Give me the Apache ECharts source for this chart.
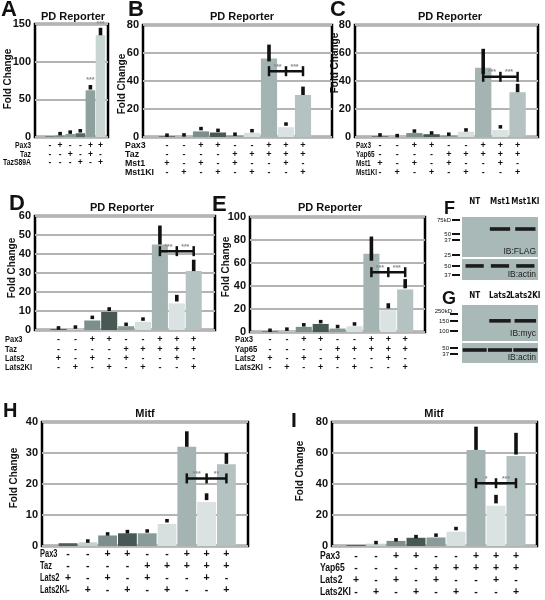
<!DOCTYPE html>
<html><head><meta charset="utf-8">
<script src="https://cdn.jsdelivr.net/npm/echarts@6/dist/echarts.min.js"></script>
<style>html,body{margin:0;padding:0;background:#fff}#c{width:545px;height:600px}</style>
</head><body><div id="c"></div>
<script>
// ---------------- DATA ----------------
// shared condition rows (panels B-I)
const pax3Signs    = ['-','-','+','+','-','-','+','+','+'];
const partnerSigns = ['-','-','-','-','+','+','+','+','+'];
const kinaseSigns  = ['+','-','+','-','+','-','-','+','-'];
const kinaseKISigns= ['-','+','-','+','-','+','-','-','+'];

// Panel A
const aRowNames = ['Pax3','Taz','TazS89A'];
const aPax3     = ['-','+','-','-','+','+'];
const aTaz      = ['-','-','+','-','+','-'];
const aTazS89A  = ['-','-','-','+','-','+'];
const aValues   = [0.8, 2, 4, 5, 62, 135];
const aErrLow   = [null, 3.5, 5.5, 7, 63, 135];
const aErrHigh  = [null, 5.5, 7.5, 9.5, 69, 145];
const aStarText = ['', '', '', '', '***', '***'];
const aStarLevel= [null, null, null, null, 75, 150];
const aTicks    = [0, 50, 100, 150];

// Panel B
const bRowNames = ['Pax3','Taz','Mst1','Mst1KI'];
const bValues   = [0.5, 0.3, 4, 3.2, 1, 3, 56, 7, 30];
const bErrLow   = [0.8, 1, 5, 4, 1.5, 3.8, 54, 8, 30];
const bErrHigh  = [1.8, 2, 7, 5.5, 2.5, 5.2, 66, 10.5, 36];
const bBracket  = 47; const bStars = ['***','***'];
const bTicks    = [0, 20, 40, 60, 80];

// Panel C
const cRowNames = ['Pax3','Yap65','Mst1','Mst1KI'];
const cValues   = [0.5, 0.3, 2.8, 2, 1, 3.8, 49.5, 5, 32];
const cErrLow   = [1, 0.5, 3.5, 2.3, 1.5, 4.3, 45, 6.5, 32];
const cErrHigh  = [2, 1.5, 5, 3.5, 2.5, 5.8, 63, 8, 38];
const cBracket  = 43; const cStars = ['***','***'];
const cTicks    = [0, 20, 40, 60, 80];

// Panel D
const dRowNames = ['Pax3','Taz','Lats2','Lats2KI'];
const dValues   = [0.5, 0.7, 5, 9.5, 2, 4.3, 45, 14, 31];
const dErrLow   = [0.7, 1.1, 5.8, 10, 2.5, 5, 45, 15, 31];
const dErrHigh  = [1.5, 2, 7.5, 12, 3.5, 6.5, 55, 18.5, 37];
const dBracket  = 41.5; const dStars = ['***','***'];
const dTicks    = [0, 10, 20, 30, 40, 50, 60];

// Panel E
const eRowNames = ['Pax3','Yap65','Lats2','Lats2KI'];
const eValues   = [0.5, 0.5, 4.5, 7, 3, 5, 68, 19, 37];
const eErrLow   = [1, 2, 5.5, 8, 4, 6, 62, 20.5, 38];
const eErrHigh  = [2, 3, 7, 10, 5.5, 8, 83, 25, 46];
const eBracket  = 52; const eStars = ['***','***'];
const eTicks    = [0, 20, 40, 60, 80, 100];

// Panel H
const hRowNames = ['Pax3','Taz','Lats2','Lats2KI'];
const hValues   = [0.9, 1.2, 3.4, 4.1, 4.1, 7.1, 32, 14.2, 26.4];
const hErrLow   = [null, 1.3, 3.6, 4.3, 4.5, 7.7, 32, 14.8, 26.5];
const hErrHigh  = [null, 1.9, 4.2, 5, 5.2, 8.6, 37, 17, 30];
const hBracket  = 21.8; const hStars = ['***','**'];
const hTicks    = [0, 10, 20, 30, 40];

// Panel I
const iRowNames = ['Pax3','Yap65','Lats2','Lats2KI'];
const iValues   = [0.6, 1.5, 3.3, 5.3, 5.5, 9.2, 62, 26, 58];
const iErrLow   = [null, 1.8, 3.6, 5.6, 6.4, 10.5, 62, 27.5, 59];
const iErrHigh  = [null, 2.6, 4.4, 6.5, 7.6, 12, 77, 33, 73];
const iBracket  = 40.5; const iStars = ['*','***'];
const iTicks    = [0, 20, 40, 60, 80];

// Western blots F, G
const fLanes = ['NT','Mst1','Mst1KI'];
const fFlagBand  = [0, 1, 1];
const fActinBand = [1, 1, 1];
const fMarkers = ['75kD','50','37','25','50','37'];
const fProbes  = ['IB:FLAG','IB:actin'];
const gLanes = ['NT','Lats2','Lats2KI'];
const gMycBand   = [0, 1, 1];
const gActinBand = [1, 1, 1];
const gMarkers = ['250kD','150','100','50','37'];
const gProbes  = ['IB:myc','IB:actin'];

// colours
const barColors9 = ['#4f5f5c','#c6d1d0','#7c8f8c','#485955','#8a9c99','#d6e0de','#a3b4b2','#dae3e2','#b4c3c1'];
const barColorsA = ['#4f5f5c','#7c8f8c','#8a9c99','#586965','#8fa19e','#c9d5d3'];
const BLOT = '#a9b9b8';
const FONT = '"Liberation Sans", Arial, Helvetica, sans-serif';
const NARROW = '"Liberation Sans Narrow", "DejaVu Sans Condensed", "Liberation Sans", Arial, sans-serif';

// ---------------- LAYOUT ----------------
const panels = [
 {letter:'A', title:'PD Reporter', values:aValues, lo:aErrLow, hi:aErrHigh, colors:barColorsA, rows:[aPax3,aTaz,aTazS89A], rowNames:aRowNames, ticks:aTicks,
  stars:{text:aStarText, level:aStarLevel},
  frame:{l:35,r:108,t:24,b:137}, first:50, pitch:10.1, fs:8.5, lh:8.5, margin:4.5, names:{x:31,align:'right',w:28}, titlePos:[73,17], yname:[8,79], letterPos:[1,10,22]},
 {letter:'B', title:'PD Reporter', values:bValues, lo:bErrLow, hi:bErrHigh, colors:barColors9, rows:[pax3Signs,partnerSigns,kinaseSigns,kinaseKISigns], rowNames:bRowNames, ticks:bTicks,
  bracket:bBracket, bStars:bStars,
  frame:{l:143,r:332,t:25,b:137}, first:167, pitch:17, fs:9, lh:9, margin:4.5, names:{x:125,align:'left',w:29}, titlePos:[242,17], yname:[122,84], letterPos:[128,10,22]},
 {letter:'C', title:'PD Reporter', values:cValues, lo:cErrLow, hi:cErrHigh, colors:barColors9, rows:[pax3Signs,partnerSigns,kinaseSigns,kinaseKISigns], rowNames:cRowNames, ticks:cTicks,
  bracket:cBracket, bStars:cStars,
  frame:{l:355,r:538,t:25,b:137}, first:380, pitch:17.2, fs:9, lh:9, margin:4.5, names:{x:356,align:'left',w:21}, titlePos:[450,17], yname:[335,63], letterPos:[330,10,22]},
 {letter:'D', title:'PD Reporter', values:dValues, lo:dErrLow, hi:dErrHigh, colors:barColors9, rows:[pax3Signs,partnerSigns,kinaseSigns,kinaseKISigns], rowNames:dRowNames, ticks:dTicks,
  bracket:dBracket, bStars:dStars,
  frame:{l:35,r:215,t:216,b:330}, first:58.5, pitch:16.9, fs:9, lh:9.3, margin:5.3, names:{x:5,align:'left',w:27}, titlePos:[122,208], yname:[12,268], letterPos:[9,204,22]},
 {letter:'E', title:'PD Reporter', values:eValues, lo:eErrLow, hi:eErrHigh, colors:barColors9, rows:[pax3Signs,partnerSigns,kinaseSigns,kinaseKISigns], rowNames:eRowNames, ticks:eTicks,
  bracket:eBracket, bStars:eStars,
  frame:{l:250,r:425,t:217,b:332}, first:270, pitch:16.9, fs:9, lh:9.3, margin:3.3, names:{x:235,align:'left',w:28}, titlePos:[330,208], yname:[226,267], letterPos:[212,205,22]},
 {letter:'H', title:'Mitf', values:hValues, lo:hErrLow, hi:hErrHigh, colors:barColors9, rows:[pax3Signs,partnerSigns,kinaseSigns,kinaseKISigns], rowNames:hRowNames, ticks:hTicks,
  bracket:hBracket, bStars:hStars,
  frame:{l:42,r:248,t:422,b:546}, first:68, pitch:19.8, fs:10.5, lh:12, margin:2, names:{x:40,align:'left',w:27}, titlePos:[145,414], yname:[14,478], letterPos:[3,411,20]},
 {letter:'I', title:'Mitf', values:iValues, lo:iErrLow, hi:iErrHigh, colors:barColors9, rows:[pax3Signs,partnerSigns,kinaseSigns,kinaseKISigns], rowNames:iRowNames, ticks:iTicks,
  bracket:iBracket, bStars:iStars,
  frame:{l:332,r:537,t:422,b:546}, first:356, pitch:20, fs:10.5, lh:12, margin:4, names:{x:320,align:'left',w:31}, titlePos:[434,414], yname:[300,471], letterPos:[291,421,21]}
];

const mctx = document.createElement('canvas').getContext('2d');
function textW(t, font){ mctx.font = font; return mctx.measureText(t).width; }
function fontStr(o){ return (o.weight||'bold')+' '+(o.size||11)+'px '+FONT; }

const grids=[], xAxes=[], yAxes=[], series=[], graphics=[];
function T(x,y,text,o){ o=o||{};
  graphics.push({type:'text', x:x, y:y, rotation:o.rot||0, scaleX:o.sx||1, z:100, silent:true,
    style:{text:text, fill:o.color||'#111', font:fontStr(o), align:o.align||'center', verticalAlign:o.va||'middle'}});
}
function L(x1,y1,x2,y2,w,c){ graphics.push({type:'line', z:100, silent:true, shape:{x1:x1,y1:y1,x2:x2,y2:y2}, style:{stroke:c||'#111', lineWidth:w||2}}); }

function errRender(params, api){
  const x = api.value(0);
  const p1 = api.coord([x, api.value(1)]), p2 = api.coord([x, api.value(2)]);
  let top = p2[1], h = p1[1]-p2[1];
  if (h < 3.5){ const c=(p1[1]+p2[1])/2; top=c-1.75; h=3.5; }
  return {type:'rect', shape:{x:p1[0]-1.8, y:top, width:3.6, height:h}, style:{fill:'#111'}};
}
function bracketRenderer(stars){
  return function(params, api){
    const y = api.value(3);
    const a = api.coord([api.value(0), y]), m = api.coord([api.value(1), y]), b = api.coord([api.value(2), y]);
    const th = 5;
    const ln = (x1,y1,x2,y2)=>({type:'line', shape:{x1:x1,y1:y1,x2:x2,y2:y2}, style:{stroke:'#111', lineWidth:2.5}});
    const tx = (x,t)=>({type:'text', x:x, y:a[1]-1, style:{text:t, fill:'#8a8a8a', font:'bold 7px '+FONT, align:'center', verticalAlign:'bottom'}});
    return {type:'group', children:[
      ln(a[0],a[1],b[0],b[1]), ln(a[0],a[1]-th,a[0],a[1]+th), ln(m[0],m[1]-th,m[0],m[1]+th), ln(b[0],b[1]-th,b[0],b[1]+th),
      tx((a[0]+m[0])/2, stars[0]), tx((m[0]+b[0])/2, stars[1])
    ]};
  };
}

panels.forEach(p => {
  const n = p.values.length, f = p.frame, h = f.b - f.t;
  const gi = grids.length;
  const yMax = p.ticks[p.ticks.length-1], yInt = p.ticks[1]-p.ticks[0];
  grids.push({left:f.l, top:f.t, width:f.r-f.l, height:h, show:true, borderColor:'#000', borderWidth:2.5, backgroundColor:'transparent', containLabel:false, outerBoundsMode:'none'});
  grids.push({left:p.first-p.pitch/2, top:f.t, width:p.pitch*n, height:h, show:false, containLabel:false, outerBoundsMode:'none'});
  xAxes.push({gridIndex:gi, type:'value', min:0, max:1, show:false});
  const labels = p.values.map((_,i)=>p.rows.map(r=>r[i]).join('\n'));
  xAxes.push({gridIndex:gi+1, type:'category', data:p.values.map((_,i)=>String(i)),
    axisLine:{show:false}, axisTick:{show:false},
    axisLabel:{interval:0, margin:p.margin, fontSize:p.fs, lineHeight:p.lh, fontWeight:'bold', fontFamily:FONT, color:'#111',
      formatter:(v,idx)=>labels[idx]}});
  yAxes.push({gridIndex:gi, type:'value', min:0, max:yMax, interval:yInt, axisLine:{show:false}, axisTick:{show:false},
    splitLine:{show:true, lineStyle:{color:'#b4b4b4', width:2}},
    axisLabel:{margin:4, fontSize:11, fontWeight:'bold', fontFamily:FONT, color:'#111'}});
  yAxes.push({gridIndex:gi+1, type:'value', min:0, max:yMax, show:false, splitLine:{show:false}});
  const ax = xAxes.length-1, ay = yAxes.length-1;
  series.push({type:'bar', xAxisIndex:ax, yAxisIndex:ay, barCategoryGap:'5%', animation:false, z:2,
    data:p.values.map((v,i)=>({value:v, itemStyle:{color:p.colors[i]}}))});
  const errData = [];
  p.values.forEach((v,i)=>{ if(p.lo[i]!=null) errData.push([i, p.lo[i], p.hi[i]]); });
  series.push({type:'custom', xAxisIndex:ax, yAxisIndex:ay, data:errData, encode:{x:0, y:[1,2]}, renderItem:errRender, z:5, animation:false, clip:false});
  if (p.bracket!=null){
    series.push({type:'custom', xAxisIndex:ax, yAxisIndex:ay, data:[[6,7,8,p.bracket]], encode:{x:[0,1,2], y:3},
      renderItem:bracketRenderer(p.bStars), z:6, animation:false, clip:false});
  }
  if (p.stars){
    const sd = [];
    p.stars.level.forEach((lv,i)=>{ if(lv!=null) sd.push([i, lv, p.stars.text[i]]); });
    series.push({type:'custom', xAxisIndex:ax, yAxisIndex:ay, data:sd, encode:{x:0,y:1}, z:6, animation:false, clip:false,
      renderItem:(params, api)=>{ const c = api.coord([api.value(0), api.value(1)]);
        return {type:'text', x:c[0], y:c[1], style:{text:sd[params.dataIndex][2], fill:'#8a8a8a', font:'bold 7px '+FONT, align:'center', verticalAlign:'middle'}}; }});
  }
  // row names, condensed to the reference width
  const nf = fontStr({size:p.fs});
  const maxW = Math.max.apply(null, p.rowNames.map(nm=>textW(nm, nf)));
  const sx = Math.min(1, p.names.w / maxW);
  p.rowNames.forEach((nm,r)=>T(p.names.x, f.b + p.margin + p.lh*(r+0.5), nm, {size:p.fs, align:p.names.align, sx:sx}));
  // title, y name, letter
  T(p.titlePos[0], p.titlePos[1], p.title, {size:11});
  T(p.yname[0], p.yname[1], 'Fold Change', {size:10, rot:Math.PI/2});
  T(p.letterPos[0], p.letterPos[1], p.letter, {size:p.letterPos[2], align:'left'});
});

// ---------------- BLOTS ----------------
function bandRenderer(frac){
  return function(params, api){
    const c = api.coord([api.value(0), api.value(1)]);
    const w = api.size([1,0])[0]*frac;
    return {type:'rect', shape:{x:c[0]-w/2, y:c[1]-1.8, width:w, height:3.6}, style:{fill:'#1c1c1c'}};
  };
}
function blot(rect, lanes, bands, levels, fracs, labelMargin){
  rect.forEach((g, k)=>{
    const gi = grids.length;
    grids.push({left:g[0], top:g[1], width:g[2], height:g[3], show:true, backgroundColor:BLOT, borderWidth:0, containLabel:false, outerBoundsMode:'none'});
    xAxes.push({gridIndex:gi, type:'category', data:lanes, position:'top', axisLine:{show:false}, axisTick:{show:false},
      axisLabel:{show:k===0, interval:0, margin:labelMargin, fontSize:8, fontWeight:'bold', fontFamily:NARROW, color:'#111'}});
    yAxes.push({gridIndex:gi, type:'value', min:0, max:1, show:false, splitLine:{show:false}});
    const data = [];
    bands[k].forEach((v,i)=>{ if(v>0) data.push([i, levels[k]]); });
    series.push({type:'custom', xAxisIndex:xAxes.length-1, yAxisIndex:yAxes.length-1, data:data, encode:{x:0,y:1},
      renderItem:bandRenderer(fracs[k]), z:3, animation:false, clip:false});
  });
}
blot([[462,217,76,40],[462,259,76,21]], fLanes, [fFlagBand, fActinBand], [0.7, 0.67], [0.8, 0.72], 11);
blot([[462,305,76,36],[462,343,76,20]], gLanes, [gMycBand, gActinBand], [0.56, 0.65], [0.85, 0.95], 5);

// blot markers and probe labels
const fMarkerY = [220, 234, 240, 255, 266, 275];
fMarkers.forEach((m,i)=>{ T(451, fMarkerY[i], m, {size:6, align:'right', weight:'normal'}); L(452, fMarkerY[i], 460, fMarkerY[i], 2); });
const gMarkerY = [314, 321, 331, 348, 354];
gMarkers.forEach((m,i)=>{ T(i===0?452:449, gMarkerY[i]-(i===0?3:0), m, {size:6, align:'right', weight:'normal'}); L(450, gMarkerY[i], 458, gMarkerY[i], 2); });
T(536, 252, fProbes[0], {size:8.5, align:'right', weight:'normal', color:'#222'});
T(536, 275, fProbes[1], {size:8.5, align:'right', weight:'normal', color:'#222'});
T(536, 334, gProbes[0], {size:8.5, align:'right', weight:'normal', color:'#222'});
T(536, 358, gProbes[1], {size:8.5, align:'right', weight:'normal', color:'#222'});
T(444, 209, 'F', {size:18, align:'left'});
T(442, 299, 'G', {size:18, align:'left'});

const chart = echarts.init(document.getElementById('c'), null, {renderer:'canvas', width:545, height:600});
chart.setOption({animation:false, backgroundColor:'#fff', grid:grids, xAxis:xAxes, yAxis:yAxes, series:series, graphic:{elements:graphics}});
</script></body></html>
